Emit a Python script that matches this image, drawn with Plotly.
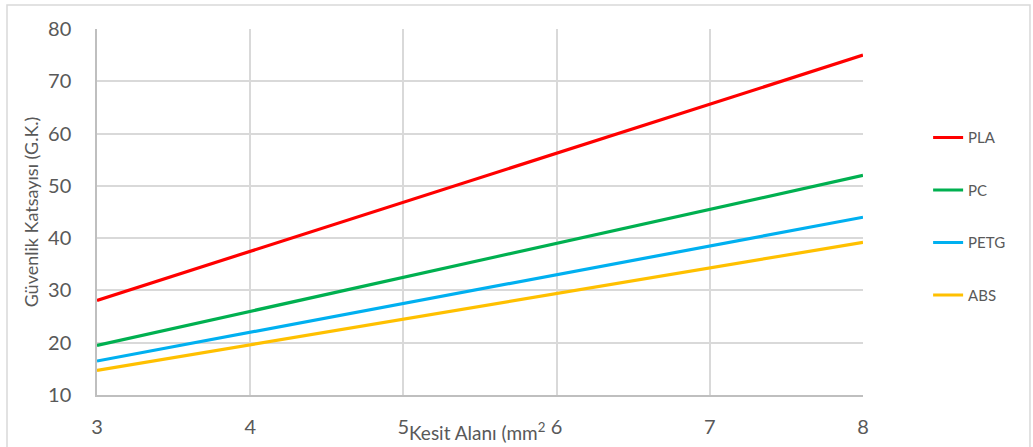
import plotly.graph_objects as go

# Cross-section area (mm²) and safety factor per material
kesit_alani = [3, 4, 5, 6, 7, 8]
pla = [28.1, 37.5, 46.9, 56.25, 65.6, 75.0]
pc = [19.5, 26.0, 32.5, 39.0, 45.5, 52.0]
petg = [16.5, 22.0, 27.5, 33.0, 38.5, 44.0]
abs_ = [14.7, 19.6, 24.5, 29.4, 34.3, 39.2]

series = [
    ("PLA", pla, "#ff0000"),
    ("PC", pc, "#00b050"),
    ("PETG", petg, "#00b0f0"),
    ("ABS", abs_, "#ffc000"),
]

FONT = "Lato, 'Open Sans', sans-serif"
GREY = "#595959"

fig = go.Figure()
for name, vals, color in series:
    fig.add_trace(go.Scatter(
        x=kesit_alani, y=vals, mode="lines", name=name,
        legendgroup=name,
        line=dict(color=color, width=3.2),
    ))

fig.update_layout(
    width=1033, height=447,
    margin=dict(l=97, r=170, t=29, b=52),
    paper_bgcolor="white", plot_bgcolor="white",
    font=dict(family=FONT, color=GREY),
    showlegend=True,
    legend=dict(
        x=1.085, xanchor="left", y=0.748, yanchor="top",
        font=dict(size=15, color=GREY),
        tracegroupgap=30,
        bgcolor="rgba(0,0,0,0)",
        traceorder="grouped",
    ),
    xaxis=dict(
        range=[3, 8], dtick=1, tick0=3,
        showgrid=True, gridcolor="#d9d9d9", gridwidth=1.5,
        showline=True, linecolor="#bfbfbf", linewidth=1.5, mirror=False,
        zeroline=False, automargin=False,
        tickfont=dict(size=20, color=GREY),
        ticks="", ticklabelstandoff=13,
    ),
    yaxis=dict(
        range=[10, 80], dtick=10,
        showgrid=True, gridcolor="#d9d9d9", gridwidth=1.5,
        showline=True, linecolor="#bfbfbf", linewidth=1.5,
        zeroline=False, automargin=False,
        tickfont=dict(size=20, color=GREY),
        ticks="", ticklabelstandoff=20,
        title=dict(text="Güvenlik Katsayısı (G.K.)", font=dict(size=18, color=GREY), standoff=5),
    ),
    annotations=[dict(
        text="Kesit Alanı (mm<sup>2</sup>",
        xref="paper", yref="paper", x=0.496, y=0,
        xanchor="center", yanchor="middle", yshift=-36,
        showarrow=False, font=dict(size=19, color=GREY),
    )],
    shapes=[dict(
        type="rect", xref="paper", yref="paper",
        x0=-0.1175, x1=1.218, y0=-0.2, y1=1.0656,
        line=dict(color="#d9d9d9", width=1.5), fillcolor="rgba(0,0,0,0)",
        layer="below",
    )],
)

fig.write_html("out.html")
